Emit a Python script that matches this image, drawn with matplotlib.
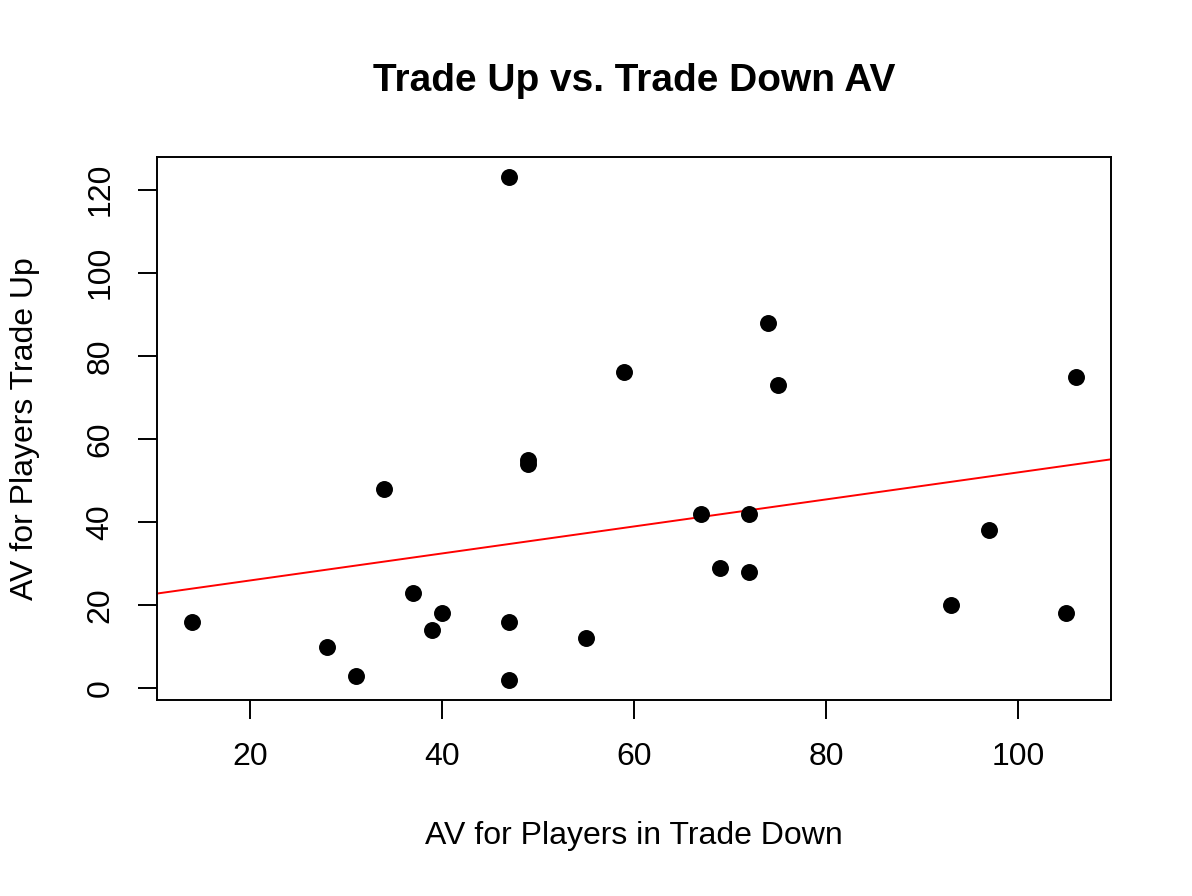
import matplotlib.pyplot as plt
import numpy as np

plt.rcParams['font.family'] = ['Liberation Sans', 'DejaVu Sans']

# AV values
av_trade_down = [14, 28, 31, 34, 37, 39, 40, 47, 47, 47, 49, 49,
                 55, 59, 67, 69, 72, 72, 74, 75, 93, 97, 105, 106]
av_trade_up = [16, 10, 3, 48, 23, 14, 18, 123, 16, 2, 55, 54,
               12, 76, 42, 29, 42, 28, 88, 73, 20, 38, 18, 75]

x = np.array(av_trade_down)
y = np.array(av_trade_up)

fig = plt.figure(figsize=(11.92, 8.96), dpi=100)
ax = fig.add_axes([0.1317, 0.2188, 0.8003, 0.606])

ax.scatter(x, y, s=125, color='black', zorder=3)

# R style 4% padding
xpad = (x.max() - x.min()) * 0.04
ypad = (y.max() - y.min()) * 0.04
ax.set_xlim(x.min() - xpad, x.max() + xpad)
ax.set_ylim(y.min() - ypad, y.max() + ypad)

# least squares line, like abline(lm(y ~ x))
slope, intercept = np.polyfit(x, y, 1)
xs = np.array(ax.get_xlim())
ax.plot(xs, intercept + slope * xs, color='red', lw=1.4, zorder=2)

ax.set_xticks([20, 40, 60, 80, 100])
ax.set_yticks([0, 20, 40, 60, 80, 100, 120])
ax.tick_params(direction='out', length=14, width=1.4, labelsize=23, pad=16)
for lab in ax.get_yticklabels():
    lab.set_rotation(90)
    lab.set_va('center')
for sp in ax.spines.values():
    sp.set_linewidth(1.4)

ax.set_xlabel('AV for Players in Trade Down', fontsize=23)
ax.xaxis.label.set_va('center')
ax.xaxis.set_label_coords(0.5, -0.2505)
ax.set_ylabel('AV for Players Trade Up', fontsize=23)
ax.yaxis.label.set_va('center')
ax.yaxis.set_label_coords(-0.1384, 0.5)
fig.text(0.532, 1 - 81 / 896, 'Trade Up vs. Trade Down AV', fontsize=28,
         fontweight='bold', ha='center', va='center')

fig.savefig('out.png', dpi=100)
